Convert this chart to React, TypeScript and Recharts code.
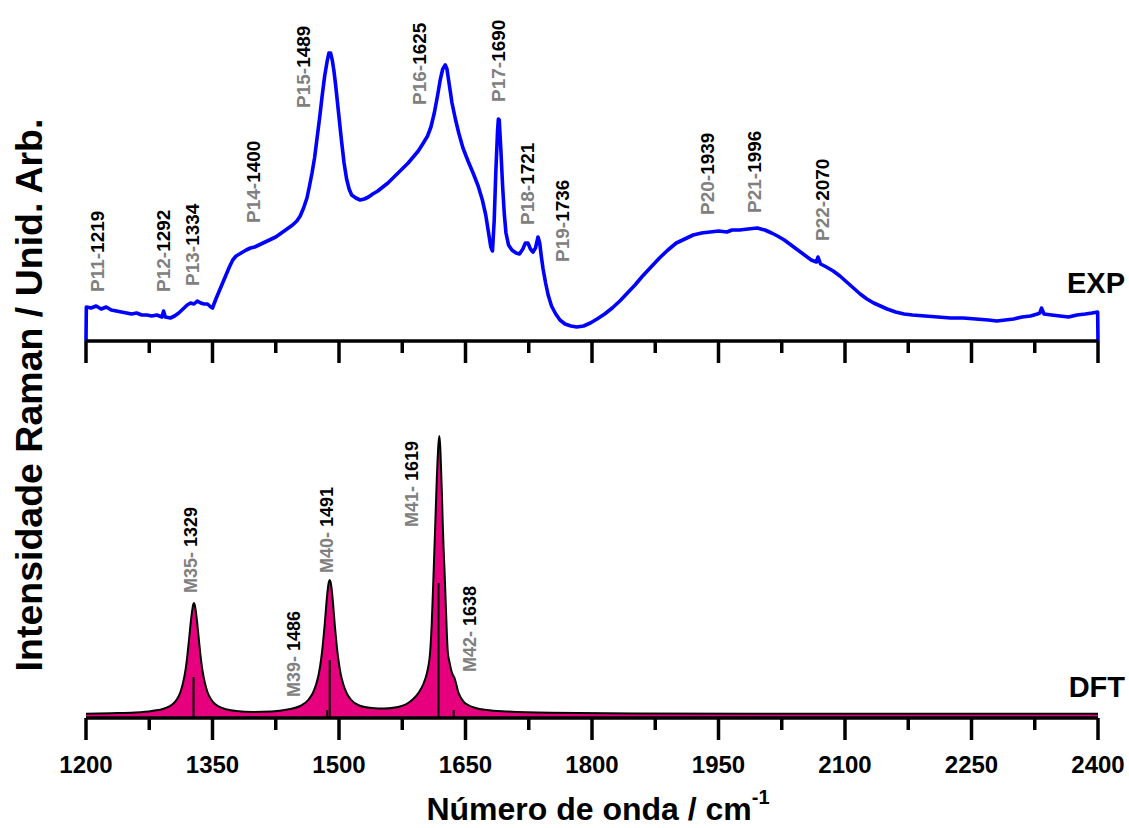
import React from "react";
import {
  ComposedChart,
  Line,
  Area,
  Scatter,
  XAxis,
  YAxis,
  ReferenceLine,
} from "recharts";

const FONT = "'Liberation Sans', Arial, Helvetica, sans-serif";

// wavenumber (cm-1), intensity (arb.)
const expSpectrum: [number, number][] = [
  [1200, 0], [1200.4, 34], [1206, 33], [1212, 35], [1218, 32], [1224, 34], [1230, 31],
  [1236, 30], [1242, 29], [1248, 28], [1254, 27], [1260, 28], [1266, 26], [1272, 26],
  [1278, 25], [1284, 26], [1290, 24], [1292, 30], [1294, 24], [1300, 23], [1305, 25],
  [1310, 28], [1315, 32], [1320, 36], [1324, 38], [1328, 37], [1332, 40], [1336, 38],
  [1340, 37], [1344, 37], [1348, 34], [1350, 33], [1354, 42], [1358, 50], [1362, 58],
  [1366, 66], [1370, 74], [1374, 81], [1378, 85], [1382, 87], [1386, 89], [1390, 91],
  [1395, 93], [1400, 94], [1405, 96], [1410, 98], [1415, 100], [1420, 102], [1425, 104],
  [1430, 107], [1435, 110], [1440, 113], [1445, 116], [1450, 120], [1454, 125], [1458, 133],
  [1462, 143], [1465, 155], [1468, 168], [1471, 183], [1474, 203], [1477, 223], [1480, 245],
  [1483, 265], [1486, 280], [1488, 288], [1490, 288], [1492, 281], [1494, 270], [1496, 256],
  [1498, 240], [1500, 224], [1503, 200], [1506, 178], [1509, 162], [1512, 152], [1515, 146],
  [1520, 143], [1525, 141], [1530, 142], [1535, 144], [1540, 147], [1546, 150], [1552, 154],
  [1558, 158], [1564, 163], [1570, 168], [1576, 173], [1582, 178], [1588, 184], [1594, 190],
  [1600, 198], [1605, 205], [1609, 214], [1613, 228], [1617, 246], [1620, 261], [1623, 272],
  [1626, 276], [1628, 272], [1631, 255], [1634, 238], [1638, 222], [1642, 208], [1647, 193],
  [1653, 180], [1659, 168], [1665, 155], [1670, 141], [1674, 126], [1677, 110], [1680, 94],
  [1682, 90], [1684, 120], [1686, 170], [1688, 210], [1689, 222], [1690, 221], [1692, 190],
  [1694, 155], [1696, 127], [1698, 108], [1701, 96], [1705, 91], [1710, 88], [1714, 87],
  [1718, 92], [1721, 98], [1724, 98], [1727, 92], [1730, 89], [1733, 93], [1736, 104],
  [1738, 98], [1740, 84], [1742, 72], [1745, 58], [1748, 46], [1752, 35], [1757, 27],
  [1762, 21], [1768, 17], [1775, 15], [1782, 14], [1790, 15], [1798, 18], [1806, 22],
  [1815, 27], [1824, 33], [1833, 40], [1842, 48], [1851, 56], [1860, 65], [1870, 74],
  [1880, 83], [1890, 91], [1900, 98], [1910, 102], [1920, 106], [1930, 108], [1940, 109],
  [1950, 110], [1960, 109], [1966, 111], [1975, 111], [1985, 112], [1996, 113], [2005, 111],
  [2013, 108], [2020, 105], [2028, 101], [2036, 96], [2044, 91], [2052, 86], [2060, 81],
  [2066, 79], [2068, 84], [2071, 77], [2078, 74], [2086, 70], [2094, 65], [2102, 59],
  [2110, 53], [2118, 47], [2126, 42], [2134, 38], [2142, 35], [2150, 32], [2160, 29],
  [2170, 27], [2180, 26], [2195, 25], [2210, 24], [2225, 23], [2240, 23], [2255, 22],
  [2270, 21], [2280, 20], [2290, 21], [2300, 22], [2310, 24], [2320, 25], [2328, 27],
  [2331, 28], [2333, 33], [2336, 27], [2345, 26], [2355, 25], [2365, 24], [2375, 26],
  [2385, 27], [2393, 28], [2399.6, 29], [2400, 0],
];

const dftSpectrum: [number, number][] = [
  [1200, 4.3], [1230, 4.8], [1258, 5.5], [1278, 7], [1293, 9.5], [1303, 14], [1308, 19],
  [1312, 26], [1315, 35], [1318, 48], [1320, 61], [1322, 77], [1324, 94], [1326, 108],
  [1327, 113], [1328, 115], [1329, 113], [1330, 108], [1332, 94], [1334, 77], [1336, 61],
  [1338, 48], [1341, 35], [1344, 26], [1348, 19], [1353, 14], [1363, 9.5], [1378, 7],
  [1398, 6], [1420, 6.5], [1439, 8.5], [1454, 12], [1464, 18.5], [1469, 25], [1473, 34],
  [1476, 44], [1479, 60], [1481, 75], [1483, 93], [1485, 114], [1487, 131], [1488, 136],
  [1489, 138], [1490, 136], [1491, 131], [1493, 114], [1495, 93], [1497, 75], [1499, 60],
  [1502, 44], [1505, 34], [1509, 25], [1514, 18.5], [1524, 12.5], [1539, 10], [1554, 9.5],
  [1570, 11], [1580, 14], [1588, 19], [1595, 26], [1600, 34], [1604, 44], [1606, 52],
  [1608, 65], [1610, 95], [1612, 141], [1614, 190], [1616, 240], [1617, 260], [1618, 275],
  [1619, 282], [1620, 272], [1621, 250], [1622, 225], [1623, 195], [1624, 170], [1625, 150],
  [1626, 128], [1628, 82], [1629, 66], [1631, 56], [1633, 48], [1635, 43], [1637, 40],
  [1639, 34], [1641, 27], [1644, 21], [1648, 16], [1654, 12.5], [1662, 10], [1675, 8],
  [1700, 6.5], [1750, 5.2], [1850, 4.6], [2000, 4.3], [2400, 4.2],
];

// calculated modes: wavenumber, stick height
const dftSticks: [number, number][] = [
  [1327.5, 41], [1486, 8], [1489, 58], [1618, 135], [1636, 8],
];

// peak labels: grey tag, black number, anchor wavenumber, anchor height
const expPeaks = [
  { tag: "P11-", num: "1219", w: 1213, y: 49 },
  { tag: "P12-", num: "1292", w: 1291, y: 49 },
  { tag: "P13-", num: "1334", w: 1326, y: 55 },
  { tag: "P14-", num: "1400", w: 1398, y: 118 },
  { tag: "P15-", num: "1489", w: 1457, y: 233 },
  { tag: "P16-", num: "1625", w: 1595, y: 236 },
  { tag: "P17-", num: "1690", w: 1689, y: 239 },
  { tag: "P18-", num: "1721", w: 1723, y: 116 },
  { tag: "P19-", num: "1736", w: 1764, y: 79 },
  { tag: "P20-", num: "1939", w: 1936, y: 126 },
  { tag: "P21-", num: "1996", w: 1992, y: 128 },
  { tag: "P22-", num: "2070", w: 2073, y: 100 },
];

const dftModes = [
  { tag: "M35- ", num: "1329", w: 1325, y: 125 },
  { tag: "M39- ", num: "1486", w: 1447, y: 21 },
  { tag: "M40- ", num: "1491", w: 1486, y: 145 },
  { tag: "M41- ", num: "1619", w: 1587, y: 191 },
  { tag: "M42- ", num: "1638", w: 1655, y: 46 },
];

const xTicks = [
  1200, 1275, 1350, 1425, 1500, 1575, 1650, 1725, 1800, 1875, 1950, 2025, 2100,
  2175, 2250, 2325, 2400,
];

const expRows = expSpectrum.map(([w, v]) => ({ w, v }));
const dftRows = dftSpectrum.map(([w, v]) => ({ w, v }));

function AxisTick(props: any) {
  const { x, y, payload, showLabel } = props;
  const major = (payload.value - 1200) % 150 === 0;
  return (
    <g>
      <line
        x1={x}
        x2={x}
        y1={y}
        y2={y + (major ? 22 : 12)}
        stroke="#000"
        strokeWidth={3.5}
      />
      {showLabel && major && (
        <text
          x={x}
          y={y + 55}
          textAnchor="middle"
          fontSize={24}
          fontWeight="bold"
          fontFamily={FONT}
          fill="#000"
        >
          {payload.value}
        </text>
      )}
    </g>
  );
}

const peakLabel = (size: number) => (props: any) => {
  const { cx, cy, payload } = props;
  return (
    <text
      x={cx}
      y={cy}
      transform={`rotate(-90 ${cx} ${cy})`}
      dominantBaseline="central"
      fontSize={size}
      fontWeight="bold"
      fontFamily={FONT}
    >
      <tspan fill="#808080">{payload.tag}</tspan>
      <tspan fill="#000">{payload.num}</tspan>
    </text>
  );
};

const axisLine = { stroke: "#000", strokeWidth: 3.5 };

export default function App() {
  return (
    <div
      style={{
        position: "absolute",
        left: 0,
        top: 0,
        width: 1129,
        height: 828,
        background: "#fff",
        fontFamily: FONT,
      }}
    >
      <div style={{ position: "absolute", left: 0, top: 0 }}>
        <ComposedChart
          width={1129}
          height={371}
          margin={{ top: 41, right: 31, bottom: 0, left: 86 }}
        >
          <XAxis
            dataKey="w"
            type="number"
            domain={[1200, 2400]}
            ticks={xTicks}
            interval={0}
            height={30}
            tickSize={0}
            tickMargin={0}
            tickLine={false}
            axisLine={axisLine}
            tick={(p: any) => <AxisTick {...p} />}
          />
          <YAxis type="number" domain={[0, 300]} hide width={0} />
          <Line
            data={expRows}
            dataKey="v"
            type="linear"
            stroke="#0000ff"
            strokeWidth={3.6}
            strokeLinejoin="round"
            dot={false}
            activeDot={false}
            isAnimationActive={false}
          />
          <Scatter
            data={expPeaks}
            dataKey="y"
            shape={peakLabel(19)}
            isAnimationActive={false}
          />
        </ComposedChart>
      </div>

      <div style={{ position: "absolute", left: 0, top: 380 }}>
        <ComposedChart
          width={1129}
          height={448}
          margin={{ top: 38, right: 31, bottom: 0, left: 86 }}
        >
          <XAxis
            dataKey="w"
            type="number"
            domain={[1200, 2400]}
            ticks={xTicks}
            interval={0}
            height={110}
            tickSize={0}
            tickMargin={0}
            tickLine={false}
            axisLine={axisLine}
            tick={(p: any) => <AxisTick {...p} showLabel />}
          />
          <YAxis type="number" domain={[0, 300]} hide width={0} />
          <Area
            data={dftRows}
            dataKey="v"
            type="monotone"
            baseValue={0}
            fill="#e6007e"
            fillOpacity={1}
            stroke="#000"
            strokeWidth={2}
            dot={false}
            activeDot={false}
            isAnimationActive={false}
          />
          {dftSticks.map(([w, h]) => (
            <ReferenceLine
              key={w}
              segment={[
                { x: w, y: 0 },
                { x: w, y: h },
              ]}
              stroke="#000"
              strokeWidth={2}
            />
          ))}
          <Scatter
            data={dftModes}
            dataKey="y"
            shape={peakLabel(18)}
            isAnimationActive={false}
          />
        </ComposedChart>
      </div>

      <svg
        width={1129}
        height={828}
        style={{ position: "absolute", left: 0, top: 0, pointerEvents: "none" }}
      >
        <text
          x={42}
          y={395}
          transform="rotate(-90 42 395)"
          textAnchor="middle"
          fontSize={37.5}
          fontWeight="bold"
          fontFamily={FONT}
          fill="#000"
        >
          Intensidade Raman / Unid. Arb.
        </text>
        <text
          x={598}
          y={820}
          textAnchor="middle"
          fontSize={32}
          fontWeight="bold"
          fontFamily={FONT}
          fill="#000"
        >
          Número de onda / cm
          <tspan dy={-16} fontSize={20}>
            -1
          </tspan>
        </text>
        <text x={1125} y={293} textAnchor="end" fontSize={29} fontWeight="bold" fontFamily={FONT}>
          EXP
        </text>
        <text x={1125} y={697} textAnchor="end" fontSize={29} fontWeight="bold" fontFamily={FONT}>
          DFT
        </text>
      </svg>
    </div>
  );
}
